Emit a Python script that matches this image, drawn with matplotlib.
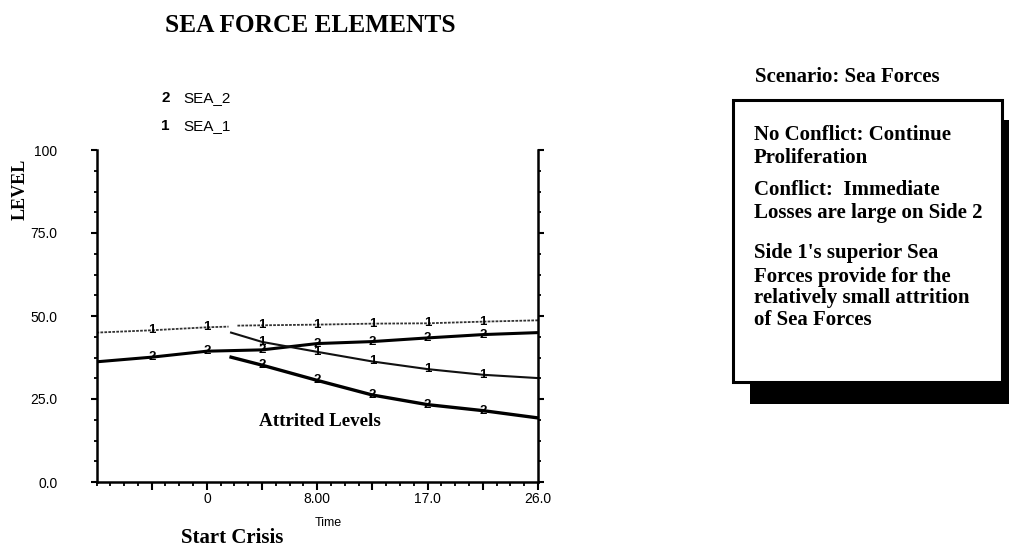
import numpy as np
import matplotlib
matplotlib.use("Agg")
import matplotlib.pyplot as plt
from matplotlib.patches import Rectangle

# ---------------- data ----------------
XMIN, XMAX = -26 / 3, 26.0
tick_pos = [0.0, 26 / 3, 52 / 3, 26.0]
tick_labels = ["0", "8.00", "17.0", "26.0"]
half_ticks = [-13 / 3, 13 / 3, 13.0, 65 / 3]
ytick_vals = [0, 25, 50, 75, 100]
ytick_labels = ["0.0", "25.0", "50.0", "75.0", "100"]

# SEA_1, no conflict (gap near start of crisis)
t_sea1_nc = [-8.67, -4.33, 0.0, 1.7, np.nan, 2.4, 4.33, 8.67, 13.0, 17.33, 21.67, 26.0]
sea1_nc = [45.0, 45.7, 46.6, 46.8, np.nan, 47.1, 47.2, 47.4, 47.7, 47.8, 48.3, 48.7]
# SEA_2, no conflict
t_sea2_nc = [-8.67, -4.33, 0.0, 4.33, 8.67, 13.0, 17.33, 21.67, 26.0]
sea2_nc = [36.2, 37.6, 39.4, 39.8, 41.7, 42.3, 43.4, 44.4, 45.0]
# attrited levels (conflict)
t_att = [1.9, 4.33, 8.67, 13.0, 17.33, 21.67, 26.0]
sea1_att = [45.0, 42.2, 39.2, 36.3, 34.0, 32.3, 31.3]
sea2_att = [37.6, 35.2, 30.6, 26.2, 23.3, 21.5, 19.3]

mark_nc = [-4.33, 0.0, 4.33, 8.67, 13.0, 17.33, 21.67]
mark_att = [4.33, 8.67, 13.0, 17.33, 21.67]

SERIF = ["Liberation Serif", "DejaVu Serif"]
SANS = ["Liberation Sans", "DejaVu Sans"]
MFS = 9.5

fig = plt.figure(figsize=(10.09, 5.5), dpi=100)
ax = fig.add_axes([96.5 / 1009, 1 - 482 / 550, (538 - 96.5) / 1009, (482 - 150) / 550])

ax.plot(t_sea1_nc, sea1_nc, color="#333333", lw=1.3, ls=(0, (1.5, 0.7)))
ax.plot(t_sea2_nc, sea2_nc, color="black", lw=2.2)
ax.plot(t_att, sea1_att, color="#111111", lw=1.5)
ax.plot(t_att, sea2_att, color="black", lw=2.4)

def interp(t, ts, vs):
    ts = np.array(ts, float); vs = np.array(vs, float)
    ok = ~np.isnan(ts)
    return np.interp(t, ts[ok], vs[ok])

for t in mark_nc:
    ax.text(t, interp(t, t_sea1_nc, sea1_nc), "1", ha="center", va="center",
            fontsize=MFS, fontweight="bold", family=SANS)
    ax.text(t, interp(t, t_sea2_nc, sea2_nc), "2", ha="center", va="center",
            fontsize=MFS, fontweight="bold", family=SANS)
for t in mark_att:
    ax.text(t, interp(t, t_att, sea1_att), "1", ha="center", va="center",
            fontsize=MFS, fontweight="bold", family=SANS)
    ax.text(t, interp(t, t_att, sea2_att), "2", ha="center", va="center",
            fontsize=MFS, fontweight="bold", family=SANS)

ax.set_xlim(XMIN, XMAX)
ax.set_ylim(0, 100)
ax.spines["top"].set_visible(False)
for s in ["left", "right", "bottom"]:
    ax.spines[s].set_linewidth(1.8)

major_x = sorted(tick_pos + half_ticks)
ax.set_xticks(major_x)
ax.set_xticklabels([tick_labels[tick_pos.index(p)] if p in tick_pos else "" for p in major_x],
                   family=SANS, fontsize=10)
ax.set_xticks(np.arange(XMIN, XMAX + 0.01, 26 / 24), minor=True)
ax.set_yticks(ytick_vals)
ax.set_yticklabels(ytick_labels, family=SANS, fontsize=10)
ax.set_yticks(np.arange(0, 100.1, 6.25), minor=True)
ax.tick_params(axis="x", which="major", direction="out", length=6, width=1.5, pad=1)
ax.tick_params(axis="x", which="minor", direction="out", length=3, width=1.3)
ax.tick_params(axis="y", which="both", left=True, right=True, direction="out")
ax.tick_params(axis="y", which="major", length=4, width=1.5, pad=24)
ax.tick_params(axis="y", which="minor", length=2.5, width=1.3)

W, H = 1009, 550
def fx(px): return px / W
def fy(py): return 1 - py / H

fig.text(fx(310), fy(26), "SEA FORCE ELEMENTS", ha="center", va="center",
         fontsize=18.3, fontweight="bold", family=SERIF)
fig.text(fx(161), fy(98), "2", ha="left", va="center", fontsize=11, fontweight="bold", family=SANS)
fig.text(fx(183), fy(98), "SEA_2", ha="left", va="center", fontsize=11, family=SANS)
fig.text(fx(161), fy(126), "1", ha="left", va="center", fontsize=11, fontweight="bold", family=SANS)
fig.text(fx(183), fy(126), "SEA_1", ha="left", va="center", fontsize=11, family=SANS)
fig.text(fx(20.5), fy(189), "LEVEL", rotation=90, ha="center", va="center",
         fontsize=13, fontweight="bold", family=SERIF)
fig.text(fx(319.5), fy(422), "Attrited Levels", ha="center", va="center",
         fontsize=13.7, fontweight="bold", family=SERIF)
fig.text(fx(328.6), fy(523), "Time", ha="center", va="center", fontsize=9, family=SANS)
fig.text(fx(232), fy(538), "Start Crisis", ha="center", va="center",
         fontsize=15, fontweight="bold", family=SERIF)

# right-hand scenario box
fig.text(fx(755), fy(77), "Scenario: Sea Forces", ha="left", va="center",
         fontsize=15, fontweight="bold", family=SERIF)
fig.patches.append(Rectangle((fx(750), fy(404)), fx(1020) - fx(750), fy(120) - fy(404),
                             transform=fig.transFigure, facecolor="black", edgecolor="none", zorder=1))
fig.patches.append(Rectangle((fx(733), fy(382)), fx(1002) - fx(733), fy(100) - fy(382),
                             transform=fig.transFigure, facecolor="white", edgecolor="black",
                             linewidth=2.2, zorder=2))
box_lines = [
    (135, "No Conflict: Continue"),
    (158, "Proliferation"),
    (190, "Conflict:  Immediate"),
    (213, "Losses are large on Side 2"),
    (253, "Side 1's superior Sea"),
    (277, "Forces provide for the"),
    (298, "relatively small attrition"),
    (320, "of Sea Forces"),
]
for py, s in box_lines:
    fig.text(fx(754), fy(py), s, ha="left", va="center", fontsize=15,
             fontweight="bold", family=SERIF, zorder=3)

fig.savefig("out.png", dpi=100)
